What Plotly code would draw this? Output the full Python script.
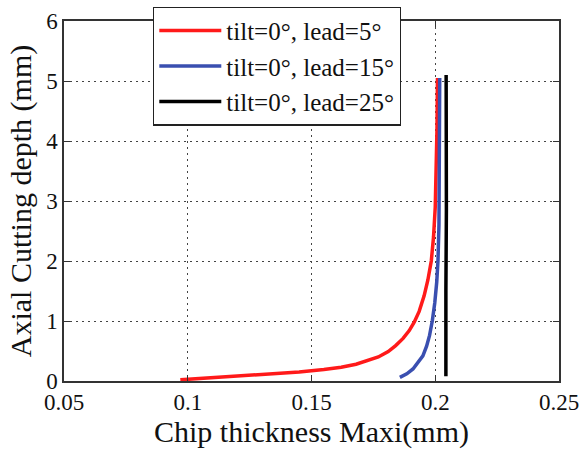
import plotly.graph_objects as go

red_x = [0.097, 0.105, 0.115, 0.125, 0.135, 0.145, 0.155, 0.162, 0.168, 0.173, 0.177, 0.181, 0.184, 0.187,
         0.1895, 0.1915, 0.1935, 0.1955, 0.197, 0.1984, 0.1993, 0.2000, 0.2004, 0.2007, 0.2009]
red_y = [0.02, 0.04, 0.07, 0.09, 0.12, 0.15, 0.19, 0.23, 0.28, 0.34, 0.40, 0.49, 0.59, 0.71,
         0.84, 0.98, 1.16, 1.42, 1.68, 2.00, 2.40, 2.90, 3.50, 4.20, 5.05]

blue_x = [0.1857, 0.1885, 0.1910, 0.1930, 0.1950, 0.1965, 0.1977, 0.1988, 0.1998, 0.2006, 0.2011, 0.2015, 0.2017, 0.2018]
blue_y = [0.06, 0.12, 0.20, 0.30, 0.42, 0.58, 0.76, 1.00, 1.30, 1.65, 2.00, 2.60, 3.50, 5.05]

black_x = [0.2043, 0.2042, 0.2043, 0.2045, 0.2043, 0.2044]
black_y = [0.08, 0.50, 1.50, 2.85, 4.20, 5.10]

names = ["tilt=0°, lead=5°", "tilt=0°, lead=15°", "tilt=0°, lead=25°"]
colors = ["#ff1a1a", "#3a4fb0", "#000000"]
widths = [3.5, 3.5, 3.5]

fig = go.Figure()
for i, (xs, ys) in enumerate([(red_x, red_y), (blue_x, blue_y), (black_x, black_y)]):
    fig.add_trace(go.Scatter(x=xs, y=ys, mode="lines", name=names[i],
                             line=dict(color=colors[i], width=widths[i])))

font = "Liberation Serif, Times New Roman, serif"
axis_common = dict(showline=True, linecolor="#333", linewidth=1.5, mirror="ticks",
                   ticks="inside", ticklen=6, tickcolor="#333",
                   showgrid=True, gridcolor="#444", griddash="1.5px,4.5px", gridwidth=1.2,
                   zeroline=False, ticklabeloverflow="allow")

fig.update_layout(
    width=586, height=454,
    margin=dict(l=64, r=21, t=7, b=73),
    paper_bgcolor="white", plot_bgcolor="white",
    showlegend=True,
    legend=dict(x=0.18, y=1.04, xanchor="left", yanchor="top",
                bordercolor="#222", borderwidth=1.2, bgcolor="white",
                font=dict(family=font, size=25, color="#111"),
                itemwidth=62, traceorder="normal"),
    xaxis=dict(range=[0.05, 0.25], tickvals=[0.05, 0.1, 0.15, 0.2, 0.25],
               ticktext=["0.05", "0.1", "0.15", "0.2", "0.25"],
               tickfont=dict(family=font, size=23, color="#111"),
               title=dict(text="Chip thickness Maxi(mm)", font=dict(family=font, size=30, color="#111"), standoff=0),
               **axis_common),
    yaxis=dict(range=[0, 6], tickvals=[0, 1, 2, 3, 4, 5, 6],
               tickfont=dict(family=font, size=23, color="#111"),
               title=dict(text="Axial Cutting depth (mm)", font=dict(family=font, size=30, color="#111"), standoff=6),
               **axis_common),
)

fig.write_html("out.html")
